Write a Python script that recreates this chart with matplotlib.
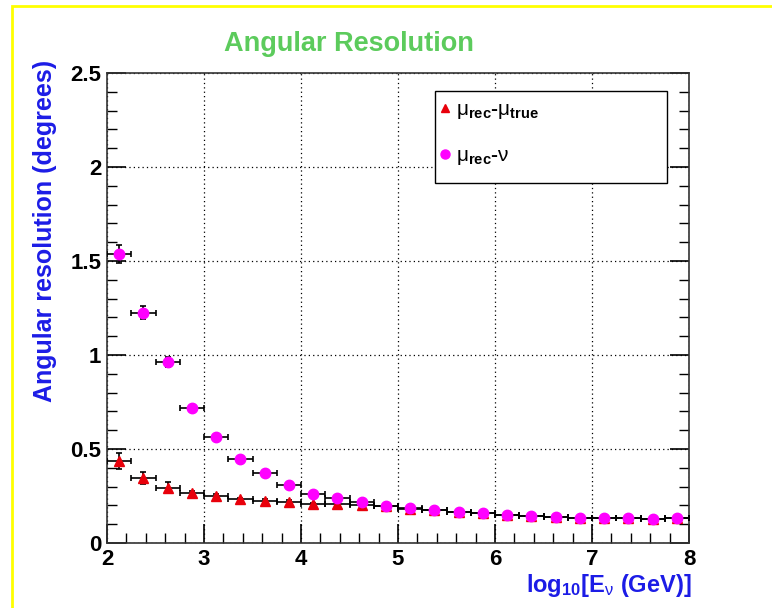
import matplotlib
matplotlib.use("Agg")
import matplotlib.pyplot as plt
from matplotlib.lines import Line2D
from matplotlib.patches import Rectangle
from matplotlib.ticker import MultipleLocator

plt.rcParams['font.family'] = ['Liberation Sans', 'DejaVu Sans']
plt.rcParams['mathtext.fontset'] = 'custom'
plt.rcParams['mathtext.rm'] = 'Liberation Sans'
plt.rcParams['mathtext.bf'] = 'Liberation Sans:bold'
plt.rcParams['mathtext.it'] = 'Liberation Sans:italic'

# bin centres in log10(E/GeV), bin half-width
log_e = [2.125, 2.375, 2.625, 2.875, 3.125, 3.375, 3.625, 3.875,
         4.125, 4.375, 4.625, 4.875, 5.125, 5.375, 5.625, 5.875,
         6.125, 6.375, 6.625, 6.875, 7.125, 7.375, 7.625, 7.875]
half_width = 0.125

mu_true = [0.436, 0.347, 0.294, 0.264, 0.250, 0.232, 0.225, 0.220,
           0.207, 0.206, 0.203, 0.195, 0.183, 0.175, 0.163, 0.157,
           0.149, 0.143, 0.137, 0.133, 0.133, 0.132, 0.129, 0.131]
mu_true_err = [0.045, 0.033, 0.028, 0.015, 0.01, 0.01, 0.01, 0.01,
               0.008, 0.008, 0.008, 0.006, 0.006, 0.006, 0.005, 0.005,
               0.005, 0.005, 0.005, 0.005, 0.005, 0.005, 0.005, 0.005]

mu_nu = [1.536, 1.225, 0.961, 0.716, 0.565, 0.448, 0.374, 0.309,
         0.261, 0.241, 0.216, 0.197, 0.184, 0.176, 0.163, 0.158,
         0.149, 0.144, 0.138, 0.133, 0.133, 0.133, 0.129, 0.133]
mu_nu_err = [0.047, 0.033, 0.027, 0.015, 0.01, 0.01, 0.01, 0.01,
             0.008, 0.008, 0.008, 0.006, 0.006, 0.006, 0.005, 0.005,
             0.005, 0.005, 0.005, 0.005, 0.005, 0.005, 0.005, 0.005]

label_true = r'$\mathrm{μ}_{\mathbf{rec}}$-$\mathrm{μ}_{\mathbf{true}}$'
label_nu = r'$\mathrm{μ}_{\mathbf{rec}}$-$\mathrm{ν}$'

fig = plt.figure(figsize=(7.72, 6.08), dpi=100)
fig.patch.set_facecolor('white')
# yellow frame
fig.patches.append(Rectangle((12/772, -0.01), 1.0, 1 - 6/608 + 0.01,
                             transform=fig.transFigure, fill=False,
                             edgecolor='#ffff00', linewidth=2.0, zorder=0))

ax = fig.add_axes([107/772, 1 - 543/608, 582/772, 470/608])

ax.errorbar(log_e, mu_true, xerr=half_width, yerr=mu_true_err, fmt='^',
            color='#e8000b', markersize=6.5, ecolor='black', elinewidth=1.2,
            capsize=2.5, capthick=1.2, zorder=3)
ax.errorbar(log_e, mu_nu, xerr=half_width, yerr=mu_nu_err, fmt='o',
            color='#ff00ff', markersize=7.5, ecolor='black', elinewidth=1.2,
            capsize=2.5, capthick=1.2, zorder=4)

ax.set_xlim(2, 8)
ax.set_ylim(0, 2.5)
ax.xaxis.set_major_locator(MultipleLocator(1))
ax.xaxis.set_minor_locator(MultipleLocator(0.2))
ax.yaxis.set_major_locator(MultipleLocator(0.5))
ax.yaxis.set_minor_locator(MultipleLocator(0.1))
ax.set_yticks([0, 0.5, 1, 1.5, 2, 2.5])
ax.set_yticklabels(['0', '0.5', '1', '1.5', '2', '2.5'])
ax.tick_params(which='both', direction='in', left=True, right=True,
               bottom=True, top=False, color='black')
ax.tick_params(which='major', length=14, width=1.2, labelsize=16, pad=4)
ax.tick_params(which='minor', length=7, width=1.0)
for lab in ax.get_xticklabels() + ax.get_yticklabels():
    lab.set_fontweight('bold')
ax.grid(True, which='major', linestyle=(0, (1, 2.5)), color='black', linewidth=0.9)
for s in ax.spines.values():
    s.set_linewidth(1.2)
    s.set_color('#333333')

fig.text(349/772, 1 - 44/608, 'Angular Resolution',
         color='#5ccb5c', fontsize=19.5, fontweight='bold', ha='center', va='center')
fig.text(45/772, 1 - 231/608, 'Angular resolution (degrees)', rotation=90,
         color='#1c1ce6', fontsize=18, fontweight='bold', ha='center', va='center')
fig.text(692/772, 1 - 572/608, r'log$_{\mathbf{10}}$[E$_{\mathrm{ν}}$ (GeV)]',
         color='#1c1ce6', fontsize=17, fontweight='bold', ha='right', va='top')

# legend frame
ax.add_patch(Rectangle(((435 - 107) / 582, (543 - 183) / 470), (667 - 435) / 582,
                       (183 - 91) / 470, transform=ax.transAxes, facecolor='white',
                       edgecolor='black', linewidth=1.0, zorder=5))
handles = [Line2D([], [], marker='^', color='#e8000b', linestyle='none', markersize=6),
           Line2D([], [], marker='o', color='#ff00ff', linestyle='none', markersize=6.5)]
leg = ax.legend(handles, [label_true, label_nu],
                bbox_to_anchor=((439 - 107) / 582, (543 - 100) / 470),
                loc='upper left', frameon=False, fontsize=15, labelspacing=1.2,
                borderpad=0, handletextpad=0.2, handlelength=0.6, borderaxespad=0)
leg.set_zorder(6)
for t in leg.get_texts():
    t.set_fontweight('bold')

fig.savefig('out.png', dpi=100, facecolor='white')
